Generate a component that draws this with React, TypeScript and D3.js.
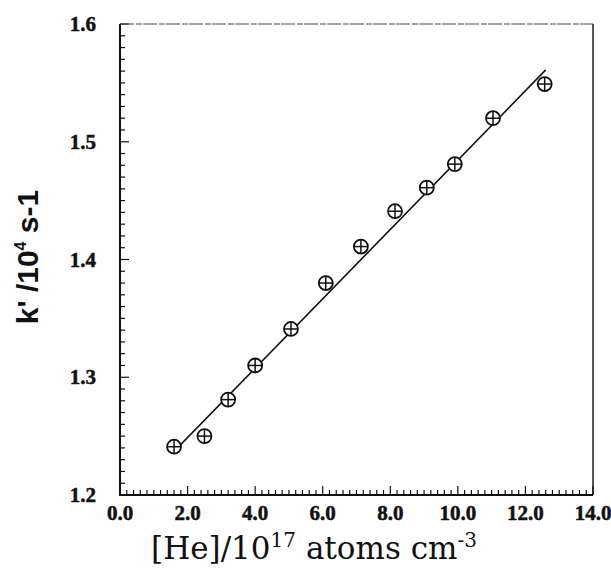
import React, { useEffect, useRef } from 'react';
import * as d3 from 'd3';

// measured points
const heConc = [1.6, 2.5, 3.2, 4.0, 5.06, 6.09, 7.13, 8.14, 9.08, 9.91, 11.04, 12.57];
const kPrime = [1.241, 1.25, 1.281, 1.31, 1.341, 1.38, 1.411, 1.441, 1.461, 1.481, 1.52, 1.549];

// fitted line end points
const fitX = [1.6, 12.6];
const fitY = [1.237, 1.561];

const xTickLabels = ['0.0', '2.0', '4.0', '6.0', '8.0', '10.0', '12.0', '14.0'];
const yTickLabels = ['1.2', '1.3', '1.4', '1.5', '1.6'];

const App = () => {
  const ref = useRef<SVGSVGElement>(null);

  useEffect(() => {
    const svg = d3.select(ref.current);
    svg.selectAll('*').remove();

    const left = 120, right = 593, top = 24, bottom = 495;
    const x = d3.scaleLinear().domain([0, 14]).range([left, right]);
    const y = d3.scaleLinear().domain([1.2, 1.6]).range([bottom, top]);

    const g = svg.append('g');

    // minor / major ticks, pointing inward
    const xMinor = d3.range(0, 14.001, 0.2);
    g.selectAll('.xt')
      .data(xMinor)
      .enter()
      .append('line')
      .attr('x1', d => x(d))
      .attr('x2', d => x(d))
      .attr('y1', bottom)
      .attr('y2', (d, i) => bottom - (i % 10 === 0 ? 9 : 5))
      .attr('stroke', '#111')
      .attr('stroke-width', 1.2);

    const yMinor = d3.range(0, 41).map(i => 1.2 + i * 0.01);
    g.selectAll('.yt')
      .data(yMinor)
      .enter()
      .append('line')
      .attr('x1', left)
      .attr('x2', (d, i) => left + (i % 10 === 0 ? 9 : 5))
      .attr('y1', d => y(d))
      .attr('y2', d => y(d))
      .attr('stroke', '#111')
      .attr('stroke-width', 1.2);

    // frame
    g.append('line').attr('x1', left).attr('x2', right).attr('y1', top).attr('y2', top)
      .attr('stroke', '#444').attr('stroke-width', 1).attr('stroke-dasharray', '14 2 6 1');
    g.append('line').attr('x1', right).attr('x2', right).attr('y1', top).attr('y2', bottom)
      .attr('stroke', '#111').attr('stroke-width', 1.4);
    g.append('line').attr('x1', left).attr('x2', left).attr('y1', top).attr('y2', bottom + 1)
      .attr('stroke', '#111').attr('stroke-width', 2);
    g.append('line').attr('x1', left - 1).attr('x2', right).attr('y1', bottom).attr('y2', bottom)
      .attr('stroke', '#111').attr('stroke-width', 2);

    // tick labels
    g.selectAll('.xl')
      .data(xTickLabels)
      .enter()
      .append('text')
      .attr('x', d => x(+d))
      .attr('y', bottom + 25)
      .attr('text-anchor', 'middle')
      .style('font-family', 'Liberation Serif')
      .style('font-weight', 'bold')
      .style('font-size', '21px')
      .style('fill', '#111')
      .style('stroke', '#111')
      .style('stroke-width', 0.5)
      .text(d => d);

    g.selectAll('.yl')
      .data(yTickLabels)
      .enter()
      .append('text')
      .attr('x', 96)
      .attr('y', d => y(+d) + 7)
      .attr('text-anchor', 'end')
      .style('font-family', 'Liberation Serif')
      .style('font-weight', 'bold')
      .style('font-size', '21px')
      .style('fill', '#111')
      .style('stroke', '#111')
      .style('stroke-width', 0.5)
      .text(d => d);

    // fit line
    const line = d3.line<number>().x(d => x(d)).y((d, i) => y(fitY[i]));
    g.append('path')
      .attr('d', line(fitX))
      .attr('fill', 'none')
      .attr('stroke', '#111')
      .attr('stroke-width', 1.6);

    // markers: circle with a cross
    const pts = heConc.map((h, i) => ({ h, k: kPrime[i] }));
    const mk = g.selectAll('.pt').data(pts).enter().append('g')
      .attr('transform', d => `translate(${x(d.h)},${y(d.k)})`);
    mk.append('circle').attr('r', 7).attr('fill', 'white')
      .attr('stroke', '#111').attr('stroke-width', 1.8);
    mk.append('line').attr('x1', -7).attr('x2', 7).attr('y1', 0).attr('y2', 0)
      .attr('stroke', '#111').attr('stroke-width', 1.5);
    mk.append('line').attr('x1', 0).attr('x2', 0).attr('y1', -7).attr('y2', 7)
      .attr('stroke', '#111').attr('stroke-width', 1.5);

    // x axis title
    const xt = svg.append('text')
      .attr('x', 314)
      .attr('y', 559)
      .attr('text-anchor', 'middle')
      .style('font-family', 'DejaVu Serif')
      .style('font-size', '31px')
      .style('fill', '#111');
    xt.append('tspan').text('[He]/10');
    xt.append('tspan').attr('dy', -12).style('font-size', '20px').text('17');
    xt.append('tspan').attr('dy', 12).text(' atoms cm');
    xt.append('tspan').attr('dy', -12).style('font-size', '20px').text('-3');

    // y axis title
    const yt = svg.append('text')
      .attr('transform', 'translate(38,257) rotate(-90)')
      .attr('text-anchor', 'middle')
      .style('font-family', 'Liberation Sans')
      .style('font-weight', 'bold')
      .style('font-size', '30px')
      .style('fill', '#111');
    yt.append('tspan').text("k' /10");
    yt.append('tspan').attr('dy', -12).style('font-size', '16px').text('4');
    yt.append('tspan').attr('dy', 12).text(' s-1');
  }, []);

  return (
    <svg
      ref={ref}
      width={611}
      height={570}
      style={{ position: 'absolute', left: 0, top: 0, background: 'white' }}
    />
  );
};

export default App;
